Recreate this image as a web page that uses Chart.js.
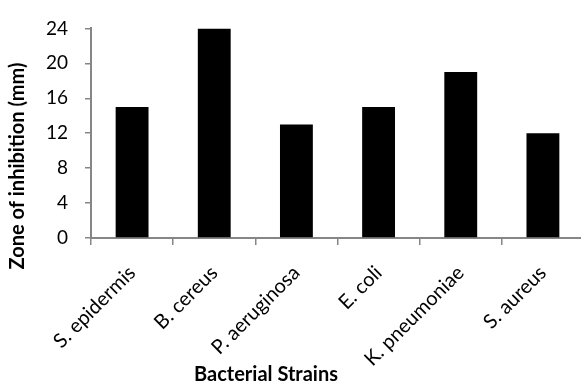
<!DOCTYPE html>
<html>
<head>
<meta charset="utf-8">
<script src="https://cdn.jsdelivr.net/npm/chart.js@4"></script>
<style>
  html, body { margin: 0; padding: 0; background: #fff; overflow: hidden; }
  #wrap { width: 586px; height: 387px; }
</style>
</head>
<body>
<div id="wrap"><canvas id="zoneChart" width="586" height="387"></canvas></div>
<script>
// Dados do gráfico
const strains = ['S. epidermis', 'B. cereus', 'P. aeruginosa', 'E. coli', 'K. pneumoniae', 'S. aureus'];
const zoneValues = [15, 24, 13, 15, 19, 12];
const yTicks = [0, 4, 8, 12, 16, 20, 24];

const xTitle = 'Bacterial Strains';
const yTitle = 'Zone of inhibition (mm)';

const axisGray = '#868686';

// Títulos dos eixos (posição igual à figura original)
const axisTitles = {
    id: 'axisTitles',
    afterDraw(chart) {
        const ctx = chart.ctx;
        ctx.save();
        ctx.fillStyle = '#000';
        ctx.font = 'bold 20px Lato';
        ctx.textAlign = 'center';
        ctx.textBaseline = 'middle';
        ctx.fillText(xTitle, 266, 375);
        ctx.translate(18, 166);
        ctx.rotate(-Math.PI / 2);
        ctx.fillText(yTitle, 0, 0);
        ctx.restore();
    }
};

const config = {
    type: 'bar',
    data: {
        labels: strains,
        datasets: [{
            data: zoneValues,
            backgroundColor: '#000',
            borderWidth: 0,
            barPercentage: 0.4,
            categoryPercentage: 1.0
        }]
    },
    options: {
        responsive: false,
        animation: false,
        layout: {
            padding: { top: 23, right: 2, left: 0, bottom: 0 }
        },
        plugins: {
            legend: { display: false },
            tooltip: { enabled: false }
        },
        scales: {
            x: {
                grid: {
                    offset: true,
                    drawOnChartArea: false,
                    color: axisGray,
                    lineWidth: 1.5,
                    tickLength: 7
                },
                border: { color: axisGray, width: 2 },
                ticks: {
                    color: '#000',
                    font: { family: 'Lato', size: 20 },
                    minRotation: 45,
                    maxRotation: 45,
                    padding: 16
                },
                afterFit(scale) { scale.height = 149; }
            },
            y: {
                min: yTicks[0],
                max: yTicks[yTicks.length - 1],
                afterBuildTicks(scale) {
                    scale.ticks = yTicks.map(v => ({ value: v }));
                },
                grid: {
                    drawOnChartArea: false,
                    color: axisGray,
                    lineWidth: 1.5,
                    tickLength: 6
                },
                border: { color: axisGray, width: 2 },
                ticks: {
                    color: '#000',
                    font: { family: 'Lato', size: 19 },
                    padding: 17
                },
                afterFit(scale) { scale.width = 91; }
            }
        }
    },
    plugins: [axisTitles]
};

function initializeChart() {
    const ctx = document.getElementById('zoneChart').getContext('2d');
    new Chart(ctx, config);
}

document.addEventListener('DOMContentLoaded', initializeChart);
</script>
</body>
</html>
